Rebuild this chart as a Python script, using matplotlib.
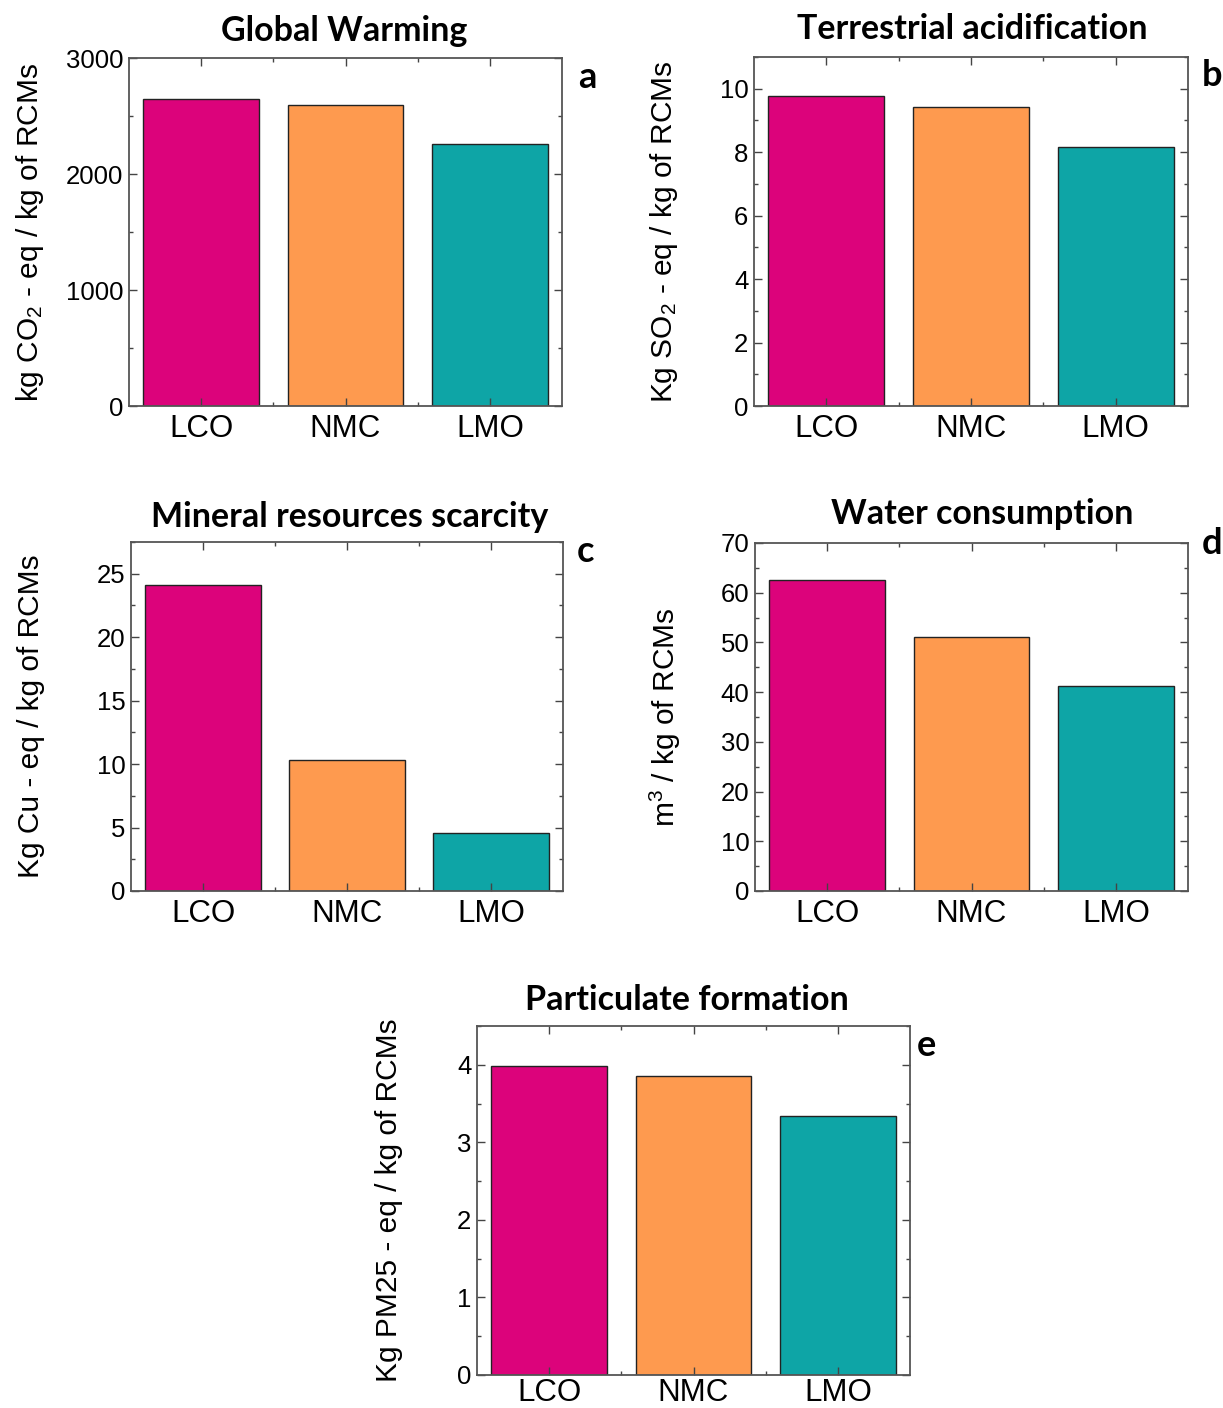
import matplotlib
matplotlib.use("Agg")
import matplotlib.pyplot as plt
from matplotlib.ticker import MultipleLocator, FixedLocator

# Impact categories per cathode chemistry
categories = ["LCO", "NMC", "LMO"]
global_warming = [2650, 2595, 2255]
terrestrial_acid = [9.78, 9.43, 8.17]
mineral_scarcity = [24.1, 10.3, 4.55]
water_consumption = [62.5, 51.1, 41.3]
particulate = [3.99, 3.85, 3.34]

bar_colors = ["#DC037B", "#FE9A4F", "#0EA5A6"]

W, H = 1223, 1408
fig = plt.figure(figsize=(W / 100, H / 100), dpi=100)

label_font = ["Liberation Sans", "DejaVu Sans"]
title_font = ["Lato", "DejaVu Sans"]

plt.rcParams["mathtext.fontset"] = "custom"
plt.rcParams["mathtext.rm"] = "Liberation Sans"
plt.rcParams["mathtext.it"] = "Liberation Sans"


def px_axes(left, top, right, bottom):
    return fig.add_axes([left / W, 1 - bottom / H, (right - left) / W, (bottom - top) / H])


def fig_xy(xp, yp):
    return xp / W, 1 - yp / H


panels = [
    dict(box=(129, 58, 562, 406), vals=global_warming, ylim=3000, major=1000, minor=500,
         title="Global Warming", title_xy=(344, 31), letter="a", letter_xy=(587, 78),
         ylabel=r"kg CO$_2$ - eq / kg of RCMs", ylabel_x=30, xpad=6),
    dict(box=(754, 57, 1188, 406), vals=terrestrial_acid, ylim=11, major=2, minor=1,
         title="Terrestrial acidification", title_xy=(972, 29), letter="b", letter_xy=(1212, 76),
         ylabel=r"Kg SO$_2$ - eq / kg of RCMs", ylabel_x=664, xpad=6),
    dict(box=(131, 542, 563, 891), vals=mineral_scarcity, ylim=27.5, major=5, minor=2.5,
         title="Mineral resources scarcity", title_xy=(350, 517), letter="c", letter_xy=(586, 552),
         ylabel="Kg Cu - eq / kg of RCMs", ylabel_x=31, xpad=6),
    dict(box=(755, 543, 1188, 891), vals=water_consumption, ylim=70, major=10, minor=5,
         title="Water consumption", title_xy=(982, 514), letter="d", letter_xy=(1212, 543),
         ylabel=r"m$^3$ / kg of RCMs", ylabel_x=665, xpad=6),
    dict(box=(477, 1026, 910, 1375), vals=particulate, ylim=4.5, major=1, minor=0.5,
         title="Particulate formation", title_xy=(687, 1000), letter="e", letter_xy=(926, 1045),
         ylabel="Kg PM25 - eq / kg of RCMs", ylabel_x=389, xpad=2),
]

x = [1, 2, 3]
for p in panels:
    left, top, right, bottom = p["box"]
    ax = px_axes(left, top, right, bottom)
    ax.bar(x, p["vals"], width=0.8, color=bar_colors, edgecolor="#222222", linewidth=1.0)
    ax.set_xlim(0.5, 3.5)
    ax.set_ylim(0, p["ylim"])
    ax.xaxis.set_major_locator(FixedLocator(x))
    ax.xaxis.set_minor_locator(FixedLocator([1.5, 2.5]))
    ax.set_xticklabels(categories)
    ax.yaxis.set_major_locator(MultipleLocator(p["major"]))
    ax.yaxis.set_minor_locator(MultipleLocator(p["minor"]))
    for lab in ax.get_xticklabels():
        lab.set_fontsize(22.5)
        lab.set_fontfamily(label_font)
    for lab in ax.get_yticklabels():
        lab.set_fontsize(18.5)
        lab.set_fontfamily(label_font)
    ax.tick_params(which="both", direction="in", top=True, right=True,
                   color="#444444", width=1.0)
    ax.tick_params(which="major", length=6)
    ax.tick_params(axis="x", which="major", pad=p["xpad"])
    ax.tick_params(axis="y", which="major", pad=4)
    ax.tick_params(which="minor", length=3)
    for s in ax.spines.values():
        s.set_color("#555555")
        s.set_linewidth(1.3)

    ax.set_ylabel(p["ylabel"], fontsize=21.5, family=label_font, va="center")
    ax.yaxis.set_label_coords((p["ylabel_x"] - left) / (right - left), 0.5)

    tx, ty = fig_xy(*p["title_xy"])
    fig.text(tx, ty, p["title"], fontsize=24.5, fontweight="bold", family=title_font,
             ha="center", va="center")
    lx, ly = fig_xy(*p["letter_xy"])
    fig.text(lx, ly, p["letter"], fontsize=26, fontweight="bold", family=title_font,
             ha="center", va="center")

fig.savefig("out.png", dpi=100, facecolor="white")
